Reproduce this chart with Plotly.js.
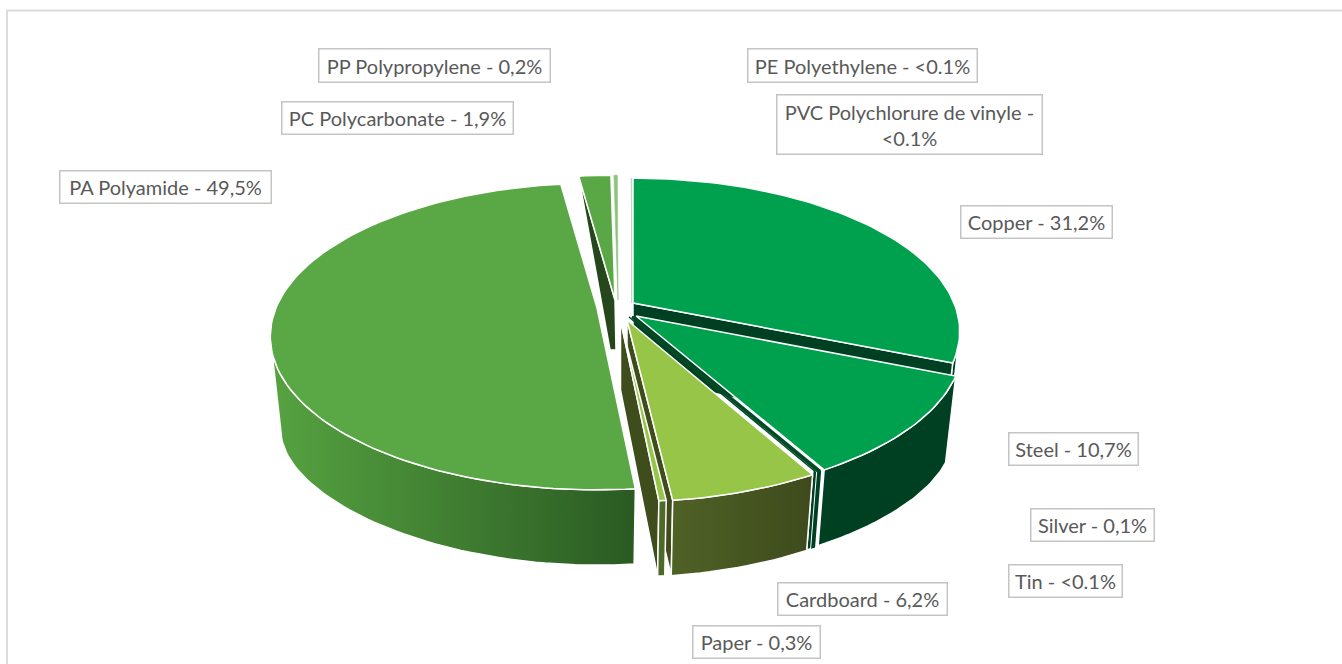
<!DOCTYPE html>
<html><head><meta charset="utf-8">
<script src="https://cdn.plot.ly/plotly-3.0.1.min.js"></script>
<style>html,body{margin:0;padding:0;background:#fff}#c{width:1342px;height:664px}</style>
</head><body><div id="c"></div>
<script>
const sliceNames = ["PE Polyethylene","PVC Polychlorure de vinyle","Copper","Steel","Silver","Tin","Cardboard","Paper","PA Polyamide","PC Polycarbonate","PP Polypropylene"];
const sliceValues = [0.02,0.02,31.2,10.7,0.1,0.03,6.2,0.3,49.5,1.9,0.2];
const valueText = ["<0.1%","<0.1%","31,2%","10,7%","0,1%","<0.1%","6,2%","0,3%","49,5%","1,9%","0,2%"];
const topColors = ["#c3d5c9","#c3d5c9","#00a14e","#00a14e","#004a26","#004a26","#97c548","#97c548","#5aa845","#5aa845","#8cc47a"];
const wallLeft  = ["#c3d5c9","#c3d5c9","#004022","#004022","#004022","#004022","#4f6226","#4f6a28","#56a341","#26471b","#8cc47a"];
const wallRight = ["#c3d5c9","#c3d5c9","#004022","#004022","#004022","#004022","#3e4a1c","#4f6a28","#2a5a22","#26471b","#8cc47a"];
// Explosion of each slice: where its apex lands on the page
const apexX = [632,632,633,636,632,629,627,620.5,597,615,618];
const apexY = [303,303,303,316,317,317,320,320,308,300,300];
// Label boxes
const boxX = [862.5,909.5,1036.5,1073.5,1092.5,1065.5,862.5,756.5,165.5,397.5,434.5];
const boxY = [65.5,124.5,222,449,525,581,599,642,187,118,65.5];
const boxW = [231,267,153,131,125,115,171,129,213,233,233];
const boxH = [35,61,34,34,34,34,34,34,34,34,35];
const boxText = sliceNames.map((n,i)=> i===1 ? "PVC Polychlorure de vinyle -<br><0.1%" : n+" - "+valueText[i]);

// 3D pie projection
const RX=321, RY=148, PERSP=0.186, BOTTOM_SCALE=0.968, LOW_RY=110, LOW_PERSP=0.3, DEPTH=100, CUT_DEPTH=70;
const total = sliceValues.reduce((a,b)=>a+b,0);
const perUnit = 360/total;
const startAngle = -(sliceValues[0]+sliceValues[1])*perUnit;
const starts=[], ends=[];
sliceValues.reduce((acc,v,i)=>{starts[i]=acc; ends[i]=acc+v*perUnit; return ends[i];}, startAngle);
// Angles of the silhouette: the outer wall only shows between them
const silhouette = Math.asin(PERSP)*180/Math.PI;
const WALL_FROM = 90+silhouette, WALL_TO = 270-silhouette;

function pt(i,deg,low){
  const t=deg*Math.PI/180, u=Math.sin(t), v=-Math.cos(t), f=1/(1-PERSP*v);
  let X=RX*u*f, Y=RY*v*f;
  if(low){X*=BOTTOM_SCALE; Y=DEPTH+LOW_RY*v/(1-LOW_PERSP*v);}
  return [apexX[i]+X, apexY[i]+Y];
}
function arc(i,a0,a1,low){
  const n=Math.max(2,Math.ceil(Math.abs(a1-a0)/1.5)), out=[];
  for(let k=0;k<=n;k++) out.push(pt(i,a0+(a1-a0)*k/n,low));
  return out;
}
const traces=[];
function poly(points,opt){
  const closed=points.concat([points[0]]);
  const tr={type:'scatter',mode:'lines',x:closed.map(p=>p[0]),y:closed.map(p=>p[1]),fill:'toself',hoverinfo:'skip',
    line:{color:opt.line||'#ffffff',width:opt.width===undefined?1.5:opt.width}};
  if(opt.grad) tr.fillgradient={type:'horizontal',colorscale:[[0,opt.grad[0]],[1,opt.grad[1]]]};
  else tr.fillcolor=opt.fill;
  traces.push(tr);
}
const idx=Object.fromEntries(sliceNames.map((n,i)=>[n,i]));
function topFace(i,opt){
  poly([[apexX[i],apexY[i]]].concat(arc(i,starts[i],ends[i],false)),Object.assign({fill:topColors[i]},opt||{}));
}
function outerWall(i,opt){
  const a0=Math.max(starts[i],WALL_FROM), a1=Math.min(ends[i],WALL_TO);
  if(a1<=a0) return;
  const a=arc(i,a0,a1,false), b=arc(i,a1,a0,true);
  poly(a.concat(b),Object.assign({grad:[wallLeft[i],wallRight[i]]},opt||{}));
}
function cutWall(i,deg,color){
  const a=[apexX[i],apexY[i]];
  poly([a,pt(i,deg,false),pt(i,deg,true),[a[0],a[1]+CUT_DEPTH]],{fill:color});
}
// back to front
let i;
i=idx["PP Polypropylene"]; topFace(i,{line:topColors[i],width:0.6});
i=idx["PC Polycarbonate"];
(function(){const a=[apexX[i],apexY[i]],T=pt(i,starts[i],false);
  poly([T,a,[a[0]+1,a[1]+50],[a[0]-5,a[1]+50]],{fill:'#26471b'});})();
topFace(i);
i=idx["PE Polyethylene"]; topFace(i,{line:topColors[i],width:1});
i=idx["PVC Polychlorure de vinyle"]; topFace(i,{line:topColors[i],width:1});
i=idx["Copper"]; outerWall(i); cutWall(i,ends[i],'#004022'); topFace(i);
i=idx["Steel"]; outerWall(i); topFace(i);
i=idx["Silver"]; outerWall(i,{line:wallLeft[i],width:2}); topFace(i,{line:topColors[i],width:2.5});
i=idx["Tin"]; outerWall(i,{line:wallLeft[i],width:2}); topFace(i,{line:topColors[i],width:1.5});
i=idx["Cardboard"]; cutWall(i,ends[i],'#3f4c1c'); outerWall(i); topFace(i);
i=idx["Paper"]; cutWall(i,ends[i],'#3f4c1c'); outerWall(i); topFace(i);
i=idx["PA Polyamide"]; outerWall(i); topFace(i);

const annotations=boxText.map((t,k)=>({xref:'x',yref:'y',x:boxX[k],y:boxY[k],text:t,showarrow:false,
  xanchor:'center',yanchor:'middle',align:'center',width:boxW[k]-3,height:boxH[k]-3,borderpad:0,borderwidth:1.5,
  bordercolor:'#c4c4c4',bgcolor:'#ffffff',font:{family:'Lato, sans-serif',size:20,color:'#595959'}}));

Plotly.newPlot('c',traces,{
  width:1342,height:664,margin:{l:0,r:0,t:0,b:0},showlegend:false,
  paper_bgcolor:'#fff',plot_bgcolor:'#fff',
  xaxis:{range:[0,1342],visible:false,fixedrange:true},
  yaxis:{range:[664,0],visible:false,fixedrange:true},
  annotations,
  shapes:[{type:'rect',xref:'x',yref:'y',x0:7,y0:10.5,x1:1360,y1:680,line:{color:'#dcdcdc',width:2},layer:'below'}]
},{displayModeBar:false,staticPlot:true});
</script></body></html>
